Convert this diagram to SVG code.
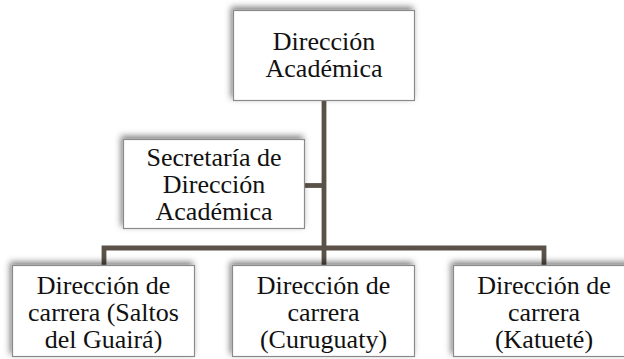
<svg xmlns="http://www.w3.org/2000/svg" width="624" height="359" viewBox="0 0 624 359">
<defs>
<filter id="sh" x="-20%" y="-30%" width="140%" height="160%">
<feDropShadow dx="-2" dy="-3" stdDeviation="3" flood-color="#000" flood-opacity="0.5"/>
</filter>
</defs>
<style>
.box{fill:#fff;stroke:#8a8a8a;stroke-width:1.2;filter:url(#sh)}
.t{font-family:'Liberation Serif','Times New Roman',serif;font-size:26px;fill:#111;text-anchor:middle}
.c{fill:none;stroke:#5a5147;stroke-width:4.8;stroke-linejoin:miter}
</style>
<rect width="624" height="359" fill="#fff"/>
<g id="connectors">
<path class="c" d="M324 100 V248"/>
<path class="c" d="M104 266 V248 H544 V266"/>
<path class="c" d="M324 248 V266"/>
<path class="c" d="M304 185.5 H324"/>
</g>
<g id="n1">
<rect class="box" x="233.5" y="10.5" width="181" height="90"/>
<text class="t" x="324" y="50">Dirección</text>
<text class="t" x="324" y="77">Académica</text>
</g>
<g id="n2">
<rect class="box" x="123.5" y="139.5" width="181" height="89"/>
<text class="t" x="214" y="166">Secretaría de</text>
<text class="t" x="214" y="193">Dirección</text>
<text class="t" x="214" y="220">Académica</text>
</g>
<g id="n3">
<rect class="box" x="12.5" y="265.5" width="182" height="91"/>
<text class="t" x="103.5" y="294">Dirección de</text>
<text class="t" x="103.5" y="321">carrera (Saltos</text>
<text class="t" x="103.5" y="348">del Guairá)</text>
</g>
<g id="n4">
<rect class="box" x="232.5" y="265.5" width="182" height="91"/>
<text class="t" x="323.5" y="294">Dirección de</text>
<text class="t" x="323.5" y="321">carrera</text>
<text class="t" x="323.5" y="348">(Curuguaty)</text>
</g>
<g id="n5">
<rect class="box" x="453.5" y="265.5" width="182" height="91"/>
<text class="t" x="544" y="294">Dirección de</text>
<text class="t" x="544" y="321">carrera</text>
<text class="t" x="544" y="348">(Katueté)</text>
</g>
</svg>
